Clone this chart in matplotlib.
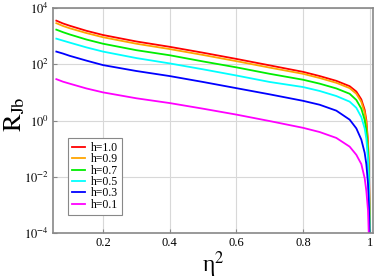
import numpy as np
import matplotlib
matplotlib.use("Agg")
import matplotlib.pyplot as plt

plt.rcParams['font.family'] = ['Liberation Serif', 'DejaVu Serif']
plt.rcParams['mathtext.fontset'] = 'stix'

# eta^2 sample positions
eta2 = [0.06, 0.08, 0.10, 0.15, 0.20, 0.30, 0.40, 0.50, 0.60, 0.70, 0.80,
        0.85, 0.90, 0.94, 0.96, 0.975, 0.985, 0.99, 0.995, 0.998, 0.9995, 1.0]

# log10(R_Jb) for each h
logR_h10 = [3.55, 3.45, 3.37, 3.19, 3.04, 2.81, 2.62, 2.41, 2.19, 1.96, 1.73,
            1.58, 1.41, 1.22, 1.03, 0.75, 0.38, 0.02, -0.75, -1.8, -3.2, -6.0]
logR_h09 = [3.46, 3.36, 3.28, 3.11, 2.96, 2.73, 2.54, 2.33, 2.11, 1.88, 1.66,
            1.51, 1.34, 1.15, 0.95, 0.66, 0.28, -0.08, -0.85, -1.9, -3.3, -6.0]
logR_h07 = [3.23, 3.14, 3.06, 2.88, 2.73, 2.50, 2.32, 2.10, 1.89, 1.66, 1.45,
            1.31, 1.14, 0.95, 0.73, 0.42, 0.02, -0.35, -1.1, -2.1, -3.5, -6.0]
logR_h05 = [2.91, 2.84, 2.77, 2.60, 2.45, 2.22, 2.03, 1.82, 1.60, 1.37, 1.19,
            1.05, 0.87, 0.67, 0.45, 0.12, -0.28, -0.65, -1.4, -2.4, -3.7, -6.0]
logR_h03 = [2.45, 2.38, 2.30, 2.13, 1.97, 1.76, 1.58, 1.37, 1.15, 0.93, 0.70,
            0.56, 0.35, 0.03, -0.28, -0.68, -1.15, -1.55, -2.25, -3.1, -4.2, -6.0]
logR_h01 = [1.47, 1.38, 1.31, 1.14, 1.00, 0.79, 0.62, 0.42, 0.21, -0.02, -0.26,
            -0.41, -0.62, -0.93, -1.22, -1.55, -2.05, -2.5, -3.2, -4.3, -5.5, -7.0]

labels = ['h=1.0', 'h=0.9', 'h=0.7', 'h=0.5', 'h=0.3', 'h=0.1']
colors = ['#ff0000', '#ffa500', '#00ee00', '#00ffff', '#0000ff', '#ff00ff']
series = [logR_h10, logR_h09, logR_h07, logR_h05, logR_h03, logR_h01]

yticks = [1e-4, 1e-2, 1e0, 1e2, 1e4]
ytick_labels = [r'$10^{-4}$', r'$10^{-2}$', r'$10^{0}$', r'$10^{2}$', r'$10^{4}$']
xticks = [0.2, 0.4, 0.6, 0.8, 1.0]
xtick_labels = ['0.2', '0.4', '0.6', '0.8', '1']

fig = plt.figure(figsize=(3.74, 2.79), dpi=100)
ax = fig.add_axes([53/374, 1-233/279, 320/374, 225/279])

for lg, lab, c in zip(series, labels, colors):
    ax.plot(eta2, 10**np.array(lg), color=c, lw=1.3, label=lab)

ax.set_yscale('log')
ax.set_xlim(0.05, 1.01)
ax.set_ylim(1e-4, 1e4)
ax.set_yticks(yticks)
ax.set_yticklabels(ytick_labels)
ax.yaxis.set_minor_locator(matplotlib.ticker.NullLocator())
ax.set_xticks(xticks)
ax.set_xticklabels(xtick_labels)
ax.tick_params(axis='both', which='major', labelsize=9, direction='in',
               length=3, width=0.8, color='#888888', pad=3)
ax.grid(True, color='#d8d8d8', lw=0.8)
for s in ax.spines.values():
    s.set_color('#888888')
    s.set_linewidth(1.2)

ax.set_ylabel(r'$\mathrm{R}_{\mathrm{Jb}}$', fontsize=19, va='center')
ax.yaxis.set_label_coords(-0.12, 0.53)
ax.set_xlabel('η$^{2}$', fontsize=17, labelpad=0)

leg = ax.legend(loc='lower left', bbox_to_anchor=(15/320, 18/225), borderaxespad=0,
                fontsize=8.5, handlelength=1.1, handletextpad=0.45, labelspacing=-0.05,
                fancybox=False, framealpha=1, edgecolor='#888888', borderpad=0.35)
leg.get_frame().set_linewidth(0.8)

fig.savefig('out.png', dpi=100)
